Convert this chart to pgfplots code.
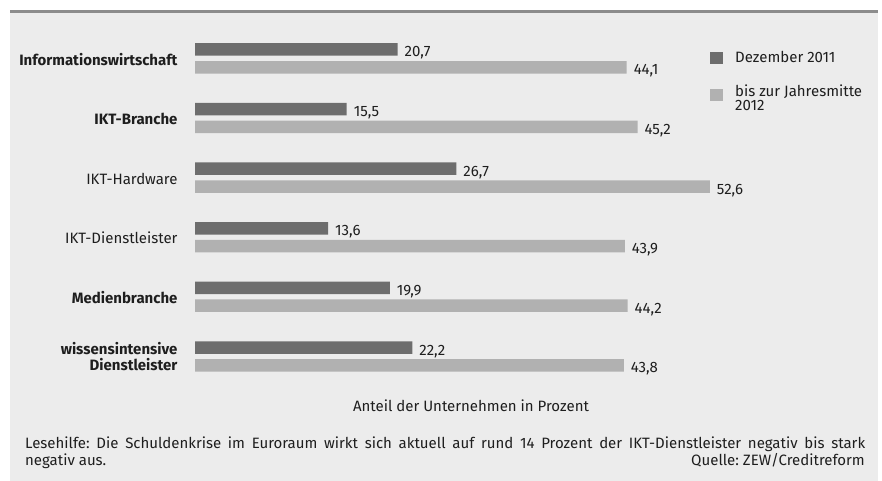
\documentclass[border=0pt]{standalone}
\usepackage{pgfplots}
\pgfplotsset{compat=1.18}
\usepackage{fontspec}
\setmainfont{Fira Sans}
\definecolor{bg}{HTML}{ECECEC}
\definecolor{rule}{HTML}{8C8C8C}
\definecolor{darkbar}{HTML}{6D6D6D}
\definecolor{lightbar}{HTML}{B1B1B1}
\definecolor{txt}{HTML}{1E1E1E}
\begin{document}
\frenchspacing
\begin{tikzpicture}[font=\fontsize{15bp}{17bp}\selectfont, text=txt]
\path[use as bounding box, fill=white] (0bp,0bp) rectangle (882bp,-481bp);
\fill[bg] (10bp,-13bp) rectangle (878bp,-481bp);
\fill[rule] (10bp,-10bp) rectangle (878bp,-13.3bp);
\begin{axis}[
  at={(0bp,-481bp)}, anchor=south west,
  scale only axis, width=882bp, height=481bp,
  xmin=-19.918, xmax=70.174, ymin=-481, ymax=0,
  hide axis, clip=false,
  xbar, bar width=12.5bp, bar shift=0pt,
  /pgf/number format/.cd, use comma, fixed, fixed zerofill, precision=1, assume math mode=true,
  /pgfplots/.cd,
  nodes near coords,
  every node near coord/.style={anchor=base west, xshift=3.5bp, yshift=-7.5bp, text=txt, font=\fontsize{15bp}{17bp}\selectfont},
  legend image code/.code={\fill[#1] (0bp,-6.3bp) rectangle (13bp,6.3bp);},
  legend style={at={(0.805,0.893)}, anchor=north west, draw=none, fill=none, inner sep=0pt,
    font=\fontsize{15bp}{17bp}\selectfont, row sep=20bp,
    nodes={inner sep=0pt, text=txt}, column sep=12bp},
  legend cell align=left,
]
\addplot[fill=darkbar, draw=none] coordinates {
  (20.7,-49.5) (15.5,-109.1) (26.7,-168.7) (13.6,-228.3) (19.9,-287.9) (22.2,-347.5)
};
\addlegendentry{Dezember 2011}
\addplot[fill=lightbar, draw=none] coordinates {
  (44.1,-67.3) (45.2,-126.9) (52.6,-186.5) (43.9,-246.1) (44.2,-305.7) (43.8,-365.3)
};
\addlegendentry{\begin{tabular}{@{}l@{}}bis zur Jahresmitte\\[-2.5bp]2012\end{tabular}}
\end{axis}
\node[anchor=base east] at (181bp,-65.1bp) {\bfseries Informationswirtschaft};
\node[anchor=base east] at (181bp,-124.7bp) {\bfseries IKT-Branche};
\node[anchor=base east] at (181bp,-184.3bp) {IKT-Hardware};
\node[anchor=base east] at (181bp,-243.9bp) {IKT-Dienstleister};
\node[anchor=base east] at (181bp,-303.5bp) {\bfseries Medienbranche};
\node[anchor=base east] at (181bp,-354bp) {\bfseries wissensintensive};
\node[anchor=base east] at (181bp,-370bp) {\bfseries Dienstleister};
\node[anchor=base] at (471bp,-411bp) {Anteil der Unternehmen in Prozent};
\node[anchor=base west, inner sep=0pt] at (25bp,-448bp) {\frenchspacing\makebox[840bp][s]{Lesehilfe: Die Schuldenkrise im Euroraum wirkt sich aktuell auf rund 14 Prozent der IKT-Dienstleister negativ bis stark}};
\node[anchor=base west, inner sep=0pt] at (25bp,-465bp) {negativ aus.};
\node[anchor=base east, inner sep=0pt] at (865bp,-465bp) {Quelle: ZEW/Creditreform};
\end{tikzpicture}
\end{document}
